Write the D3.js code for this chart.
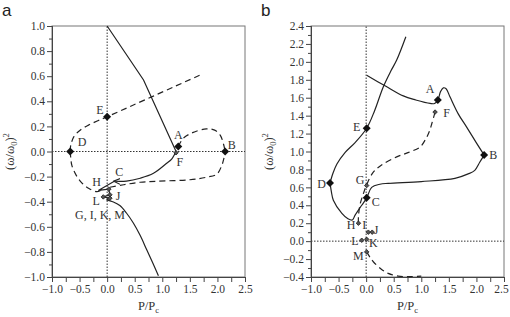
<!DOCTYPE html>
<html>
<head>
<meta charset="utf-8">
<script src="https://cdn.jsdelivr.net/npm/d3@7"></script>
<style>
  body { margin: 0; background: #fff; }
  svg { display: block; }
</style>
</head>
<body>
<div id="chart"></div>
<script>
const SERIF = '"Liberation Serif", "Times New Roman", "DejaVu Serif", serif';

// x ticks shared by both panels
const xMajor = [-1.0, -0.5, 0.0, 0.5, 1.0, 1.5, 2.0, 2.5];
const xMinor = [-0.75, -0.25, 0.25, 0.75, 1.25, 1.75, 2.25];

// ---- panel a ----
const aYMajor = [-1.0, -0.8, -0.6, -0.4, -0.2, 0.0, 0.2, 0.4, 0.6, 0.8, 1.0];
const aYMinor = [-0.9, -0.7, -0.5, -0.3, -0.1, 0.1, 0.3, 0.5, 0.7, 0.9];

const aSolidTop = [[0.0, 1.0], [0.66, 0.57], [1.25, 0.0]];
const aSolidFC = [[1.25, 0.0], [1.17, -0.06], [1.08, -0.094], [0.84, -0.174], [0.60, -0.213], [0.35, -0.236], [0.13, -0.237]];
const aZigzag = [[0.13, -0.237], [-0.16, -0.31], [0.03, -0.30], [0.05, -0.345], [-0.07, -0.362], [0.05, -0.372], [-0.01, -0.385]];
const aSolidBottom = [[-0.01, -0.385], [0.1, -0.40], [0.23, -0.43], [0.35, -0.49], [0.475, -0.57], [0.6, -0.67], [0.72, -0.785], [0.83, -0.89], [0.93, -0.99]];

const aDashE = [[-0.67, 0.0], [-0.66, 0.05], [-0.6, 0.12], [-0.49, 0.17], [-0.34, 0.21], [-0.17, 0.245], [0.0, 0.277], [1.74, 0.62]];
const aDashD = [[-0.67, 0.0], [-0.66, -0.05], [-0.64, -0.11], [-0.56, -0.19], [-0.46, -0.25], [-0.33, -0.295], [-0.19, -0.32], [-0.12, -0.31]];
const aDashB = [[0.05, -0.285], [0.3, -0.265], [0.6, -0.245], [0.9, -0.237], [1.5, -0.225], [1.8, -0.205], [1.99, -0.18], [2.08, -0.11], [2.12, -0.05], [2.14, 0.0]];
const aDashA = [[1.29, 0.04], [1.38, 0.105], [1.55, 0.15], [1.8, 0.18], [1.95, 0.17], [2.05, 0.13], [2.11, 0.06], [2.14, 0.0]];

const aBigPts = [[-0.67, 0.0], [0.0, 0.277], [1.29, 0.04], [2.14, 0.0]];
const aSmallPts = [[1.25, -0.01], [0.03, -0.30], [0.05, -0.345], [-0.07, -0.362], [0.05, -0.372]];
const aLabels = [["D", -0.456, 0.076], ["E", -0.13, 0.33], ["A", 1.29, 0.13], ["B", 2.26, 0.05],
  ["F", 1.32, -0.08], ["C", 0.22, -0.16], ["H", -0.19, -0.245], ["L", -0.2, -0.39], ["J", 0.2, -0.355],
  ["G, I, K, M", -0.13, -0.506]];

// ---- panel b ----
const bYMajor = [-0.4, -0.2, 0.0, 0.2, 0.4, 0.6, 0.8, 1.0, 1.2, 1.4, 1.6, 1.8, 2.0, 2.2, 2.4];
const bYMinor = [-0.3, -0.1, 0.1, 0.3, 0.5, 0.7, 0.9, 1.1, 1.3, 1.5, 1.7, 1.9, 2.1, 2.3];

const bSolidRise = [[-0.655, 0.65], [-0.6, 0.76], [-0.53, 0.86], [-0.38, 0.99], [-0.2, 1.1], [0.01, 1.26], [0.15, 1.45], [0.31, 1.72], [0.45, 1.9], [0.554, 2.02], [0.72, 2.28]];
const bSolidLoop = [[-0.655, 0.65], [-0.63, 0.55], [-0.595, 0.457], [-0.44, 0.31], [-0.33, 0.25], [-0.25, 0.236], [-0.2, 0.29], [-0.08, 0.40], [0.01, 0.483], [0.1, 0.6], [0.25, 0.635], [0.4, 0.645], [1.0, 0.665], [1.61, 0.70], [1.85, 0.75], [1.97, 0.79], [2.06, 0.88], [2.14, 0.96]];
const bSolidTop = [[0.01, 1.85], [0.35, 1.73], [0.674, 1.62], [0.9, 1.575], [1.16, 1.536], [1.24, 1.535], [1.30, 1.573], [1.35, 1.67], [1.40, 1.71], [1.45, 1.70], [1.52, 1.61], [1.67, 1.42], [1.82, 1.275], [2.005, 1.09], [2.14, 0.96]];
const bDashF = [[1.25, 1.44], [1.19, 1.31], [1.15, 1.23], [1.09, 1.15], [0.977, 1.05], [0.77, 0.99], [0.554, 0.94], [0.28, 0.85], [0.13, 0.77], [0.01, 0.63], [-0.05, 0.53], [-0.11, 0.41], [-0.14, 0.27], [-0.14, 0.2]];
const bDashM = [[0.01, -0.12], [0.07, -0.18], [0.13, -0.23], [0.27, -0.31], [0.40, -0.36], [0.58, -0.39], [0.8, -0.395], [1.0, -0.39]];

const bBigPts = [[0.01, 1.26], [-0.655, 0.65], [0.01, 0.483], [2.14, 0.96], [1.30, 1.575]];
const bSmallPts = [[1.25, 1.44], [0.01, 0.62], [-0.14, 0.2], [0.04, 0.1], [0.11, 0.1], [-0.08, 0.01], [0.01, 0.02], [0.01, -0.12]];
const bLabels = [["A", 1.158, 1.696], ["F", 1.46, 1.428], ["E", -0.171, 1.272], ["B", 2.306, 0.959],
  ["D", -0.806, 0.644], ["G", -0.111, 0.68], ["C", 0.173, 0.438], ["H", -0.275, 0.178], ["I", -0.033, 0.178],
  ["J", 0.179, 0.123], ["L", -0.202, 0.003], ["K", 0.13, -0.019], ["M", -0.142, -0.167]];

const W = 510, H = 317;
const svg = d3.select('#chart').append('svg').attr('width', W).attr('height', H);

const defs = svg.append('defs');
defs.append('marker').attr('id', 'arrow').attr('viewBox', '0 0 10 10')
  .attr('refX', 8).attr('refY', 5).attr('markerWidth', 6).attr('markerHeight', 6)
  .attr('orient', 'auto').append('path').attr('d', 'M0,1 L9,5 L0,9').attr('fill', 'none')
  .attr('stroke', '#222').attr('stroke-width', 1.5);

// square turned 45 degrees, like the reference diamonds
const diamond = d3.symbol().type(d3.symbolSquare);

function drawPanel(cfg) {
  const x = d3.scaleLinear().domain([-1.0, 2.5]).range([cfg.left, cfg.left + 193]);
  const y = d3.scaleLinear().domain(cfg.yDomain).range([277, 26]);
  const g = svg.append('g');

  // frame
  g.append('rect').attr('x', x(-1)).attr('y', y(cfg.yDomain[1]))
    .attr('width', x(2.5) - x(-1)).attr('height', y(cfg.yDomain[0]) - y(cfg.yDomain[1]))
    .attr('fill', 'none').attr('stroke', '#777').attr('stroke-width', 1);

  // dotted reference lines
  g.append('line').attr('x1', x(-1)).attr('x2', x(2.5)).attr('y1', y(0)).attr('y2', y(0))
    .attr('stroke', '#333').attr('stroke-width', 1).attr('stroke-dasharray', '1.5,1.5');
  g.append('line').attr('x1', x(0)).attr('x2', x(0)).attr('y1', y(cfg.yDomain[0])).attr('y2', y(cfg.yDomain[1]))
    .attr('stroke', '#333').attr('stroke-width', 1).attr('stroke-dasharray', '1.5,1.5');

  // axes
  const xAxisG = g.append('g').attr('transform', `translate(0,${y(cfg.yDomain[0])})`);
  xAxisG.call(d3.axisBottom(x).tickValues(xMajor).tickSize(5).tickFormat(d3.format('.1f')));
  xAxisG.append('g').call(d3.axisBottom(x).tickValues(xMinor).tickSize(5).tickFormat(''));
  const yAxisG = g.append('g').attr('transform', `translate(${x(-1)},0)`);
  yAxisG.call(d3.axisLeft(y).tickValues(cfg.yMajor).tickSize(5).tickFormat(d3.format('.1f')));
  yAxisG.append('g').call(d3.axisLeft(y).tickValues(cfg.yMinor).tickSize(3).tickFormat(''));
  g.selectAll('.domain').attr('stroke', '#444');
  g.selectAll('.tick line').attr('stroke', '#444');
  g.selectAll('.tick text').attr('fill', '#333').style('font-family', SERIF).style('font-size', '11.5px');
  xAxisG.selectAll('.tick text').attr('dy', '0.85em').attr('y', 6);
  yAxisG.selectAll('.tick text').attr('x', -7);
  // keep the last label inside the window (the reference crops it at the edge)
  if (cfg.trimLast) {
    xAxisG.selectAll('.tick text').filter(d => d === 2.5).attr('x', -3);
  }

  // curves
  const smooth = d3.line().x(d => x(d[0])).y(d => y(d[1])).curve(d3.curveCatmullRom.alpha(0.5));
  const straight = d3.line().x(d => x(d[0])).y(d => y(d[1]));
  cfg.solid.forEach(s => {
    g.append('path').attr('d', (s.straight ? straight : smooth)(s.data)).attr('fill', 'none')
      .attr('stroke', '#222').attr('stroke-width', 1.2)
      .attr('marker-end', s.arrow ? 'url(#arrow)' : null);
  });
  cfg.dashed.forEach(s => {
    g.append('path').attr('d', smooth(s)).attr('fill', 'none')
      .attr('stroke', '#222').attr('stroke-width', 1.2).attr('stroke-dasharray', '6,4');
  });

  // markers
  g.selectAll('.big').data(cfg.big).join('path').attr('class', 'big')
    .attr('d', diamond.size(32)).attr('transform', d => `translate(${x(d[0])},${y(d[1])}) rotate(45)`).attr('fill', '#111');
  g.selectAll('.small').data(cfg.small).join('path').attr('class', 'small')
    .attr('d', diamond.size(10)).attr('transform', d => `translate(${x(d[0])},${y(d[1])}) rotate(45)`)
    .attr('fill', '#555').attr('stroke', '#222').attr('stroke-width', 0.8);

  // point labels
  g.selectAll('.pt-label').data(cfg.labels).join('text').attr('class', 'pt-label')
    .attr('x', d => x(d[1])).attr('y', d => y(d[2])).attr('text-anchor', 'middle')
    .attr('dy', '0.35em').attr('fill', '#333')
    .style('font-family', SERIF).style('font-size', '12px').text(d => d[0]);

  // axis titles
  const xt = g.append('text').attr('x', (x(-1) + x(2.5)) / 2).attr('y', 310)
    .attr('text-anchor', 'middle').attr('fill', '#333').style('font-family', SERIF).style('font-size', '12.5px');
  xt.append('tspan').text('P/P');
  xt.append('tspan').text('c').attr('dy', 3).style('font-size', '8.5px');

  const yt = g.append('text')
    .attr('transform', `translate(${cfg.left - 38},${(y(cfg.yDomain[0]) + y(cfg.yDomain[1])) / 2}) rotate(-90)`)
    .attr('text-anchor', 'middle').attr('fill', '#333').style('font-family', SERIF).style('font-size', '12.5px');
  yt.append('tspan').text('(ω/ω');
  yt.append('tspan').text('0').attr('dy', 3).style('font-size', '8.5px');
  yt.append('tspan').text(')').attr('dy', -3);
  yt.append('tspan').text('2').attr('dy', -5).style('font-size', '8.5px');

  svg.append('text').attr('x', cfg.letterX).attr('y', 16).attr('fill', '#222')
    .style('font-family', '"Liberation Sans", Arial, sans-serif').style('font-size', '17px').text(cfg.letter);
}

drawPanel({
  left: 52, letter: 'a', letterX: 2,
  yDomain: [-1.0, 1.0], yMajor: aYMajor, yMinor: aYMinor,
  solid: [{ data: aSolidTop, straight: true }, { data: aSolidFC, arrow: true },
          { data: aZigzag, straight: true }, { data: aSolidBottom }],
  dashed: [aDashE, aDashD, aDashB, aDashA],
  big: aBigPts, small: aSmallPts, labels: aLabels
});

drawPanel({
  left: 311, letter: 'b', letterX: 261, trimLast: true,
  yDomain: [-0.4, 2.4], yMajor: bYMajor, yMinor: bYMinor,
  solid: [{ data: bSolidRise }, { data: bSolidLoop }, { data: bSolidTop }],
  dashed: [bDashF, bDashM],
  big: bBigPts, small: bSmallPts, labels: bLabels
});
</script>
</body>
</html>
